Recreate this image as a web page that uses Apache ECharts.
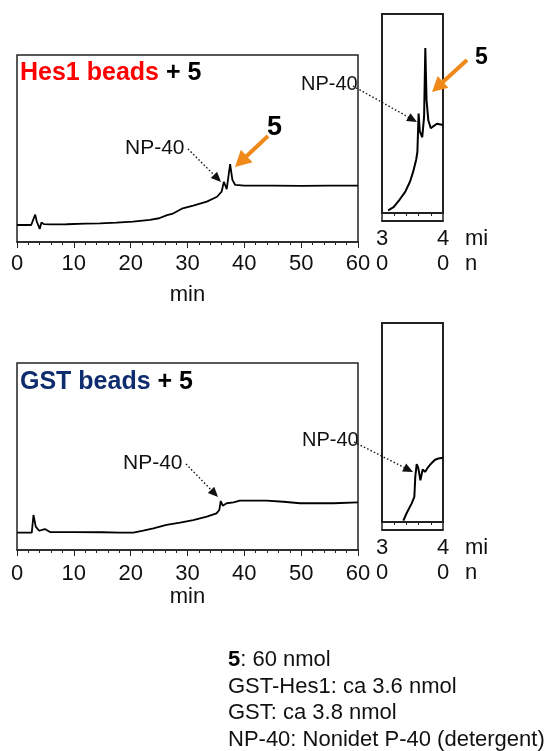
<!DOCTYPE html>
<html><head><meta charset="utf-8">
<script src="https://cdn.jsdelivr.net/npm/echarts@6/dist/echarts.min.js"></script>
<style>html,body{margin:0;padding:0;background:#fff}#c{width:549px;height:751px}</style>
</head><body><div id="c"></div><script>
// ---------------- DATA ----------------
// Top panel: Hes1 beads + 5, full run (min, signal a.u.)
const hesMainTime   = [0, 2.5, 2.9, 3.2, 3.5, 3.8, 4.0, 4.3, 4.7, 6, 8.7, 12, 14.6, 17.5, 20.4, 23.4, 25, 26.4, 27.3, 27.6, 29, 31, 33.4, 35.2, 36.0, 36.4, 36.9, 37.5, 37.9, 38.4, 40, 45, 50, 55, 60];
const hesMainSignal = [9.1, 9.1, 12.3, 14.6, 10.7, 8.6, 7.0, 10.5, 9.6, 9.4, 9.5, 9.8, 10.0, 10.4, 10.9, 11.8, 12.7, 14.4, 15.0, 16.0, 17.8, 19.4, 21.6, 24.2, 26.9, 32.2, 28.3, 41.7, 33.2, 30.5, 30.1, 30.2, 30.0, 30.1, 30.1];
// Top panel inset: 30–40 min zoom
const hesInsetTime   = [31.0, 31.9, 32.9, 33.8, 34.6, 35.1, 35.6, 35.8, 36.0, 36.2, 36.6, 36.9, 37.1, 37.3, 37.6, 38.0, 38.4, 39.0, 40.0];
const hesInsetSignal = [16.4, 16.9, 18.1, 19.3, 20.9, 22.4, 24.3, 25.5, 31.5, 28.7, 27.8, 31.0, 41.7, 33.6, 30.4, 29.2, 29.5, 29.9, 29.7];
// Bottom panel: GST beads + 5, full run
const gstMainTime   = [0, 2.6, 2.9, 3.3, 3.9, 4.9, 5.8, 10, 15, 18.1, 20.5, 22.2, 24.0, 26.3, 28.7, 31.0, 33.4, 35.1, 35.6, 35.85, 36.2, 36.9, 38.1, 39.2, 43.9, 46.9, 49.8, 55.7, 60];
const gstMainSignal = [9.3, 9.3, 18.7, 12.5, 10.3, 11.2, 9.6, 9.6, 9.5, 9.3, 9.3, 10.3, 11.6, 13.4, 14.6, 16.0, 17.8, 19.6, 21.4, 26.2, 23.7, 25.0, 25.5, 26.4, 26.4, 25.8, 25.0, 25.0, 25.5];
// Bottom panel inset: 30–40 min zoom
const gstInsetTime   = [33.5, 34.05, 34.87, 35.3, 35.46, 35.69, 35.95, 36.3, 36.67, 37.05, 37.6, 38.15, 38.7, 39.23, 40.0];
const gstInsetSignal = [16.2, 17.4, 18.9, 19.9, 23.1, 25.0, 24.4, 22.5, 24.2, 23.8, 24.6, 25.2, 25.7, 25.9, 26.0];
// Axis ranges / ticks
const mainRange  = [0, 60];
const insetRange = [30, 40];
const mainSignalRange  = [0, 100];
const insetSignalRange = [16, 47];
// Texts
const footerLines = ['{b|5}: 60 nmol', 'GST-Hes1: ca 3.6 nmol', 'GST: ca 3.8 nmol', 'NP-40: Nonidet P-40 (detergent)'];

// ---------------- CHART ----------------
const FONT = "'Liberation Sans', Arial, Helvetica, sans-serif";
const INK = '#111';
const FRAME = '#222';
const ORANGE = '#ef8a1a';
const chart = echarts.init(document.getElementById('c'), null, {renderer: 'canvas'});
const pairs = (t, s) => t.map((v, i) => [v, s[i]]);

function mainXAxis(gridIndex, margin, nameGap) {
  return {
    type: 'value', gridIndex, position: 'bottom', min: mainRange[0], max: mainRange[1], interval: 10,
    axisLine: {show: true, lineStyle: {color: FRAME, width: 1.5}},
    axisTick: {show: true, length: 6, lineStyle: {color: FRAME, width: 1}},
    minorTick: {show: true, splitNumber: 5, length: 3, lineStyle: {color: FRAME, width: 1}},
    splitLine: {show: false}, minorSplitLine: {show: false},
    axisLabel: {show: true, fontSize: 22, color: INK, fontFamily: FONT, margin, showMinLabel: true, showMaxLabel: true},
    name: 'min', nameLocation: 'middle', nameGap,
    nameTextStyle: {fontSize: 22, color: INK, fontFamily: FONT}
  };
}
function insetTickAxis(gridIndex) {
  return {
    type: 'value', gridIndex, position: 'bottom', min: insetRange[0], max: insetRange[1], interval: 10,
    axisLine: {show: true, lineStyle: {color: FRAME, width: 2}},
    axisTick: {show: true, length: 8, lineStyle: {color: FRAME, width: 1.5}},
    minorTick: {show: true, splitNumber: 5, length: 3, lineStyle: {color: FRAME, width: 1}},
    splitLine: {show: false}, minorSplitLine: {show: false},
    axisLabel: {show: false}
  };
}
function insetLabelAxis(gridIndex) {
  return {
    type: 'value', gridIndex, position: 'bottom', min: insetRange[0], max: insetRange[1], interval: 10, offset: 8,
    axisLine: {show: true, lineStyle: {color: FRAME, width: 2}},
    axisTick: {show: false}, minorTick: {show: false},
    splitLine: {show: false},
    axisLabel: {show: true, fontSize: 22, lineHeight: 25, color: INK, fontFamily: FONT, margin: 5,
      showMinLabel: true, showMaxLabel: true,
      formatter: v => String(v).split('').join('\n')},
    name: 'mi\nn', nameLocation: 'end', nameGap: 22,
    nameTextStyle: {fontSize: 22, lineHeight: 25, color: INK, fontFamily: FONT, align: 'left', verticalAlign: 'top', padding: [5, 0, 0, 0]}
  };
}
function yAx(gridIndex, r) {
  return {type: 'value', gridIndex, min: r[0], max: r[1], show: false, splitLine: {show: false}};
}
function trace(xi, yi, t, s, w) {
  return {type: 'line', xAxisIndex: xi, yAxisIndex: yi, data: pairs(t, s), showSymbol: false, symbol: 'none',
    lineStyle: {color: '#000', width: w}, silent: true, z: 3};
}

function dotted(x1, y1, x2, y2) { return arrow(x1, y1, x2, y2, '#111', 1.4, [1.5, 2.2], 10, 9); }
function orange(x1, y1, x2, y2, hl, hw) { return arrow(x1, y1, x2, y2, ORANGE, 4, null, hl, hw); }
function arrow(x1, y1, x2, y2, color, width, dash, hl, hw) {
  const dx = x2 - x1, dy = y2 - y1, L = Math.hypot(dx, dy), ux = dx / L, uy = dy / L;
  const bx = x2 - ux * hl, by = y2 - uy * hl;
  const px = -uy, py = ux;
  return [
    {type: 'line', shape: {x1, y1, x2: bx + ux * 1, y2: by + uy * 1},
      style: {stroke: color, lineWidth: width, lineDash: dash || null}, z: 10, silent: true},
    {type: 'polygon', shape: {points: [[x2, y2], [bx + px * hw / 2, by + py * hw / 2], [bx - px * hw / 2, by - py * hw / 2]]},
      style: {fill: color}, z: 10, silent: true}
  ];
}
function txt(x, y, text, size, extra) {
  return Object.assign({type: 'text', x, y, silent: true, z: 11,
    style: Object.assign({text, fontSize: size, fontFamily: FONT, fill: INK, verticalAlign: 'middle', align: 'left'}, extra || {})});
}
const LBL = 25;

const option = {
  animation: false,
  backgroundColor: '#fff',
  grid: [
    {left: 17, top: 55, width: 341, height: 187, show: true, borderColor: FRAME, borderWidth: 1.5, outerBoundsMode: 'none'},
    {left: 382, top: 14, width: 61, height: 199, show: true, borderColor: FRAME, borderWidth: 2, outerBoundsMode: 'none'},
    {left: 17, top: 363, width: 341, height: 187, show: true, borderColor: FRAME, borderWidth: 1.5, outerBoundsMode: 'none'},
    {left: 382, top: 323, width: 61, height: 199, show: true, borderColor: FRAME, borderWidth: 2, outerBoundsMode: 'none'}
  ],
  xAxis: [
    mainXAxis(0, 11, 42), insetTickAxis(1), insetLabelAxis(1),
    mainXAxis(2, 13, 35), insetTickAxis(3), insetLabelAxis(3)
  ],
  yAxis: [yAx(0, mainSignalRange), yAx(1, insetSignalRange), yAx(2, mainSignalRange), yAx(3, insetSignalRange)],
  series: [
    trace(0, 0, hesMainTime, hesMainSignal, 1.8),
    trace(1, 1, hesInsetTime, hesInsetSignal, 2),
    trace(3, 2, gstMainTime, gstMainSignal, 1.8),
    trace(4, 3, gstInsetTime, gstInsetSignal, 2)
  ],
  graphic: [
    txt(20, 73, '{r|Hes1 beads}{k| + 5}', LBL, {rich: {r: {fill: '#ff0000', fontWeight: 'bold', fontSize: LBL, fontFamily: FONT}, k: {fill: '#000', fontWeight: 'bold', fontSize: LBL, fontFamily: FONT}}}),
    txt(20, 382, '{r|GST beads}{k| + 5}', LBL, {rich: {r: {fill: '#0f2d6e', fontWeight: 'bold', fontSize: LBL, fontFamily: FONT}, k: {fill: '#000', fontWeight: 'bold', fontSize: LBL, fontFamily: FONT}}}),
    txt(125, 148, 'NP-40', 21),
    ...dotted(188, 149, 221, 182),
    txt(267, 128, '5', 27, {fontWeight: 'bold', fill: '#000'}),
    ...orange(268, 136, 235, 167, 16, 17),
    txt(301, 84, 'NP-40', 20),
    ...dotted(353, 86, 417, 122),
    txt(475, 58, '5', 23, {fontWeight: 'bold', fill: '#000'}),
    ...orange(467, 60, 432, 92, 15, 16),
    txt(123, 463, 'NP-40', 21),
    ...dotted(186, 464, 218, 497),
    txt(302, 440, 'NP-40', 20),
    ...dotted(354, 442, 413, 472),
    {type: 'text', x: 228, y: 647, silent: true, z: 11,
      style: {text: footerLines.join('\n'), fontSize: 22, lineHeight: 26.5, fontFamily: FONT, fill: INK, verticalAlign: 'top',
        rich: {b: {fontWeight: 'bold', fontSize: 22, lineHeight: 26.5, fontFamily: FONT, fill: '#000'}}}}
  ]
};
chart.setOption(option);
</script></body></html>
